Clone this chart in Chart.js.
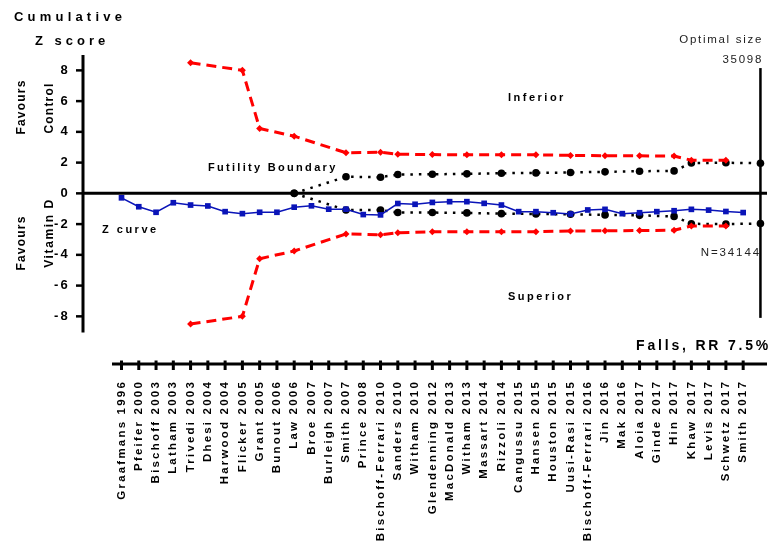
<!DOCTYPE html>
<html>
<head>
<meta charset="utf-8">
<title>Cumulative Z score - Falls</title>
<script src="https://cdn.jsdelivr.net/npm/chart.js@4.4.1/dist/chart.umd.min.js"></script>
<style>
    html, body { margin: 0; padding: 0; background: #ffffff; }
    #zChart { display: block; }
</style>
</head>
<body>
<canvas id="zChart" width="771" height="543"></canvas>
<script>
// Trials, in order of publication (x axis)
const studies = [
    'Graafmans 1996', 'Pfeifer 2000', 'Bischoff 2003', 'Latham 2003', 'Trivedi 2003',
    'Dhesi 2004', 'Harwood 2004', 'Flicker 2005', 'Grant 2005', 'Bunout 2006',
    'Law 2006', 'Broe 2007', 'Burleigh 2007', 'Smith 2007', 'Prince 2008',
    'Bischoff-Ferrari 2010', 'Sanders 2010', 'Witham 2010', 'Glendenning 2012', 'MacDonald 2013',
    'Witham 2013', 'Massart 2014', 'Rizzoli 2014', 'Cangussu 2015', 'Hansen 2015',
    'Houston 2015', 'Uusi-Rasi 2015', 'Bischoff-Ferrari 2016', 'Jin 2016', 'Mak 2016',
    'Aloia 2017', 'Ginde 2017', 'Hin 2017', 'Khaw 2017', 'Levis 2017',
    'Schwetz 2017', 'Smith 2017'
];

// Cumulative Z curve, one value per trial
const zCurve = [
    -0.29, -0.87, -1.23, -0.61, -0.76, -0.82, -1.19, -1.32, -1.23, -1.23,
    -0.90, -0.81, -1.03, -1.03, -1.38, -1.40, -0.66, -0.71, -0.59, -0.54,
    -0.54, -0.65, -0.76, -1.19, -1.19, -1.26, -1.34, -1.08, -1.04, -1.32,
    -1.26, -1.19, -1.13, -1.04, -1.09, -1.18, -1.25
];

// Monitoring boundaries (trial index where they are computed)
const boundaryIdx = [4, 7, 8, 10, 13, 15, 16, 18, 20, 22, 24, 26, 28, 30, 32, 33, 35];
const upperBoundary = [8.5, 8.0, 4.22, 3.72, 2.64, 2.67, 2.55, 2.52, 2.51, 2.51, 2.51, 2.47, 2.45, 2.44, 2.43, 2.15, 2.16];
const lowerBoundary = [-8.5, -8.0, -4.25, -3.75, -2.64, -2.70, -2.56, -2.50, -2.50, -2.50, -2.49, -2.45, -2.43, -2.42, -2.40, -2.12, -2.12];

// Futility boundaries, the last point sits at the optimal information size
const futilityIdx = [10, 13, 15, 16, 18, 20, 22, 24, 26, 28, 30, 32, 33, 35, 37];
const upperFutility = [0, 1.08, 1.05, 1.23, 1.24, 1.27, 1.31, 1.33, 1.36, 1.40, 1.44, 1.46, 1.97, 1.99, 1.96];
const lowerFutility = [0, -1.08, -1.08, -1.25, -1.25, -1.27, -1.32, -1.34, -1.36, -1.40, -1.43, -1.50, -1.98, -2.00, -1.96];

const optimalIdx = 37;
const yTicks = [-8, -6, -4, -2, 0, 2, 4, 6, 8];

const BLUE = '#0A14B8';
const RED = '#FF0000';
const FONT = '"Liberation Sans", Arial, sans-serif';

function toPoints(xs, ys) {
    return ys.map((y, i) => ({ x: xs[i], y: y }));
}

function drawText(ctx, text, x, y, opts) {
    ctx.save();
    ctx.font = opts.font;
    ctx.fillStyle = opts.color || '#000000';
    ctx.letterSpacing = opts.spacing || '0px';
    ctx.textAlign = opts.align || 'left';
    ctx.textBaseline = 'alphabetic';
    if (opts.rotate) {
        ctx.translate(x, y);
        ctx.rotate(-Math.PI / 2);
        ctx.fillText(text, 0, 0);
    } else {
        ctx.fillText(text, x, y);
    }
    ctx.restore();
}

function line(ctx, x1, y1, x2, y2) {
    ctx.beginPath();
    ctx.moveTo(x1, y1);
    ctx.lineTo(x2, y2);
    ctx.stroke();
}

// Axis lines, tick marks and annotation texts
const chartDecor = {
    id: 'chartDecor',
    beforeDraw(chart) {
        chart.ctx.letterSpacing = '2.2px';
    },
    beforeDatasetsDraw(chart) {
        const { ctx, chartArea, scales: { x, y } } = chart;
        const zero = y.getPixelForValue(0);
        ctx.save();
        ctx.letterSpacing = '0px';
        ctx.strokeStyle = '#000000';
        ctx.lineCap = 'butt';

        // y axis with its ticks
        ctx.lineWidth = 3;
        line(ctx, x.left, y.getPixelForValue(9), x.left, y.getPixelForValue(-9.05));
        ctx.lineWidth = 2.5;
        y.ticks.forEach(t => {
            const py = y.getPixelForValue(t.value);
            line(ctx, x.left - 7, py, x.left, py);
        });

        // zero line
        ctx.lineWidth = 3;
        line(ctx, x.left, zero, chartArea.right, zero);

        // bottom trial axis with its ticks
        line(ctx, x.getPixelForValue(-0.55), chartArea.bottom, chartArea.right, chartArea.bottom);
        x.ticks.forEach(t => {
            const px = x.getPixelForValue(t.value);
            line(ctx, px, chartArea.bottom - 3.5, px, chartArea.bottom + 6);
        });

        // optimal information size
        ctx.lineWidth = 2.5;
        const px = x.getPixelForValue(optimalIdx);
        line(ctx, px, y.getPixelForValue(8.15), px, y.getPixelForValue(-8.1));
        ctx.restore();
    },
    afterDraw(chart) {
        const ctx = chart.ctx;
        const bold13 = 'bold 13px ' + FONT;
        const bold12 = 'bold 12px ' + FONT;
        const bold11 = 'bold 11px ' + FONT;
        const plain11 = '11.5px ' + FONT;

        drawText(ctx, 'Cumulative', 14, 21, { font: bold13, spacing: '4.2px' });
        drawText(ctx, 'Z score', 35, 45, { font: bold13, spacing: '4px' });

        drawText(ctx, 'Favours', 25, 107, { font: bold12, spacing: '1.2px', align: 'center', rotate: true });
        drawText(ctx, 'Control', 53, 108, { font: bold12, spacing: '1.2px', align: 'center', rotate: true });
        drawText(ctx, 'Favours', 25, 243, { font: bold12, spacing: '1.2px', align: 'center', rotate: true });
        drawText(ctx, 'Vitamin D', 53, 233, { font: bold12, spacing: '1.6px', align: 'center', rotate: true });

        drawText(ctx, 'Futility Boundary', 208, 171, { font: bold11, spacing: '2.3px' });
        drawText(ctx, 'Z curve', 102, 233, { font: bold11, spacing: '2.5px' });
        drawText(ctx, 'Inferior', 508, 101, { font: bold11, spacing: '2.5px' });
        drawText(ctx, 'Superior', 508, 300, { font: bold11, spacing: '2.5px' });

        drawText(ctx, 'Optimal size', 763, 43, { font: plain11, spacing: '1.7px', align: 'right', color: '#222222' });
        drawText(ctx, '35098', 763, 63, { font: plain11, spacing: '1.7px', align: 'right', color: '#222222' });
        drawText(ctx, 'N=34144', 761, 256, { font: plain11, spacing: '1.9px', align: 'right', color: '#222222' });

        drawText(ctx, 'Falls, RR 7.5%', 771, 350, { font: 'bold 14px ' + FONT, spacing: '2.8px', align: 'right' });
    }
};

Chart.defaults.font.family = FONT;
Chart.defaults.color = '#000000';

const ctx = document.getElementById('zChart').getContext('2d');
const zChart = new Chart(ctx, {
    type: 'line',
    data: {
        datasets: [
            {
                label: 'Z curve',
                data: zCurve.map((y, i) => ({ x: i, y: y })),
                borderColor: BLUE,
                backgroundColor: BLUE,
                borderWidth: 1.5,
                pointStyle: 'rect',
                pointRadius: 4,
                pointBorderWidth: 0,
                tension: 0
            },
            {
                label: 'Upper boundary',
                data: toPoints(boundaryIdx, upperBoundary),
                borderColor: RED,
                backgroundColor: RED,
                borderWidth: 3,
                borderDash: [10, 6],
                pointStyle: 'rectRot',
                pointRadius: 3.5,
                pointBorderWidth: 0
            },
            {
                label: 'Lower boundary',
                data: toPoints(boundaryIdx, lowerBoundary),
                borderColor: RED,
                backgroundColor: RED,
                borderWidth: 3,
                borderDash: [10, 6],
                pointStyle: 'rectRot',
                pointRadius: 3.5,
                pointBorderWidth: 0
            },
            {
                label: 'Upper futility',
                data: toPoints(futilityIdx, upperFutility),
                borderColor: '#000000',
                backgroundColor: '#000000',
                borderWidth: 2.5,
                borderDash: [2.5, 6],
                pointStyle: 'circle',
                pointRadius: 3.8,
                pointBorderWidth: 0
            },
            {
                label: 'Lower futility',
                data: toPoints(futilityIdx, lowerFutility),
                borderColor: '#000000',
                backgroundColor: '#000000',
                borderWidth: 2.5,
                borderDash: [2.5, 6],
                pointStyle: 'circle',
                pointRadius: 3.8,
                pointBorderWidth: 0
            }
        ]
    },
    options: {
        responsive: false,
        animation: false,
        events: [],
        layout: {
            padding: { top: 55, left: 0, right: 0, bottom: 0 }
        },
        plugins: {
            legend: { display: false },
            tooltip: { enabled: false },
            title: { display: false }
        },
        scales: {
            x: {
                type: 'linear',
                position: 'bottom',
                min: -2.23,
                max: 37.38,
                afterBuildTicks: (scale) => {
                    scale.ticks = studies.map((_, i) => ({ value: i }));
                },
                afterFit: (scale) => {
                    scale.height = 179;
                },
                border: { display: false },
                grid: {
                    drawOnChartArea: false,
                    drawTicks: true,
                    tickLength: 7,
                    color: 'rgba(0,0,0,0)'
                },
                ticks: {
                    autoSkip: false,
                    minRotation: 90,
                    maxRotation: 90,
                    padding: 9,
                    color: '#000000',
                    font: { size: 11.5, weight: 'bold' },
                    callback: (value, index) => studies[index]
                }
            },
            y: {
                type: 'linear',
                min: -11.1,
                max: 9,
                afterBuildTicks: (scale) => {
                    scale.ticks = yTicks.map(v => ({ value: v }));
                },
                afterFit: (scale) => {
                    scale.width = 83;
                },
                border: { display: false },
                grid: {
                    drawOnChartArea: false,
                    drawTicks: true,
                    tickLength: 7,
                    color: 'rgba(0,0,0,0)'
                },
                ticks: {
                    padding: 6,
                    color: '#000000',
                    font: { size: 13, weight: 'bold' }
                }
            }
        }
    },
    plugins: [chartDecor]
});
</script>
</body>
</html>
